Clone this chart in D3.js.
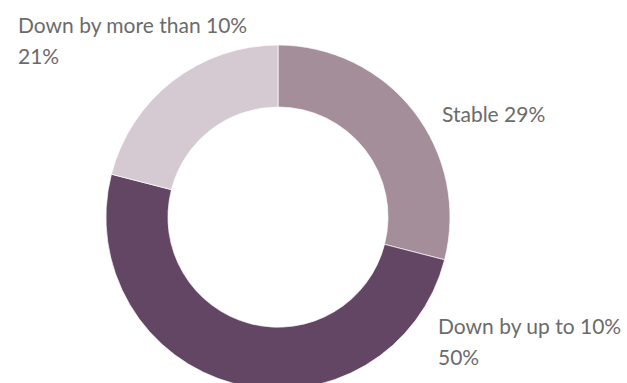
<!DOCTYPE html>
<html>
<head>
<meta charset="utf-8">
<script src="https://cdn.jsdelivr.net/npm/d3@7"></script>
<style>
  body { margin: 0; background: white; }
</style>
</head>
<body>
<div id="container"></div>
<script>
let w = 627;
let h = 383;

// data
let categories = ["Stable", "Down by up to 10%", "Down by more than 10%"];
let shares = [29, 50, 21];
let colors = ["#a48e9a", "#634664", "#d6cad2"];

// label text per slice (second line is the percentage, where it wraps)
let labelLines = [
  ["Stable 29%"],
  ["Down by up to 10%", "50%"],
  ["Down by more than 10%", "21%"]
];
let labelPos = [[442, 122], [438, 334], [18, 33]];

let cx = 278;
let cy = 217;
let outerR = 172;
let innerR = 110;

let viz = d3.select("#container")
  .append("svg")
    .attr("width", w)
    .attr("height", h)
    .style("background-color", "white")
;

let pie = d3.pie().sort(null).value(d => d);
let arc = d3.arc().innerRadius(innerR).outerRadius(outerR);

let slices = viz.append("g")
    .attr("transform", "translate(" + cx + "," + cy + ")")
  .selectAll("path")
  .data(pie(shares)).enter()
  .append("path")
    .attr("d", arc)
    .attr("fill", (d, i) => colors[i])
    .attr("stroke", "white")
    .attr("stroke-width", 0.7)
;

let labels = viz.selectAll(".label").data(labelLines).enter()
  .append("text")
    .classed("label", true)
    .attr("x", (d, i) => labelPos[i][0])
    .attr("y", (d, i) => labelPos[i][1])
    .attr("fill", "#6b6b6b")
    .style("font-family", "Lato, sans-serif")
    .style("font-size", "21px")
;

labels.selectAll("tspan").data(d => d).enter()
  .append("tspan")
    .attr("x", function () { return this.parentNode.getAttribute("x"); })
    .attr("dy", (d, i) => i == 0 ? 0 : 31)
    .text(d => d)
;
</script>
</body>
</html>
